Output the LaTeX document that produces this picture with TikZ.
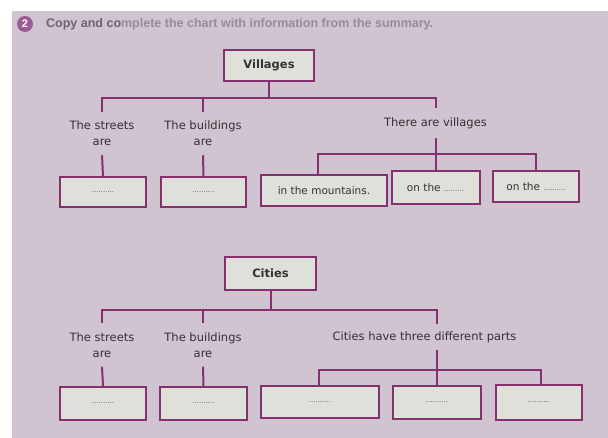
\documentclass[tikz,border=0pt]{standalone}
\usepackage{fontspec}
\usepackage{graphicx}
\setmainfont{DejaVu Sans}
\newfontfamily\headfont{Liberation Sans}
\definecolor{bgcol}{HTML}{CFC4D0}
\definecolor{boxcol}{HTML}{DDE1D9}
\definecolor{linecol}{HTML}{86306F}
\definecolor{txtcol}{HTML}{333135}
\definecolor{dotcol}{HTML}{5E5A62}
\definecolor{headcol}{HTML}{948E99}
\definecolor{headdark}{HTML}{6A6570}
\definecolor{circcol}{HTML}{9B5B93}
\newcommand\blankdots{{\fontsize{7}{7}\selectfont\color{dotcol}..........}}
\newcommand\shortdots{{\fontsize{7}{7}\selectfont\color{dotcol}.........}}
\begin{document}
\begin{tikzpicture}[x=1pt,y=-1pt,
  boxnode/.style={draw=linecol, line width=2pt, fill=boxcol, inner sep=0pt,
    text=txtcol, font=\fontsize{10.5}{12}\selectfont},
  titlenode/.style={boxnode, font=\fontsize{11.5}{13}\selectfont\bfseries},
  lbl/.style={text=txtcol, align=center, inner xsep=0pt, inner ysep=9pt,
    font=\fontsize{11.5}{16}\selectfont},
  conn/.style={draw=linecol, line width=2pt}]
\useasboundingbox (0,0) rectangle (608,438);
\fill[bgcol] (12,11) rectangle (608,438);

% header
\node[circle, fill=circcol, minimum size=16pt, inner sep=0pt, text=white,
  font=\headfont\bfseries\fontsize{11}{11}\selectfont] (num) at (25,24) {2};
\node[anchor=west, inner sep=0pt, text=headcol,
  font=\headfont\bfseries\fontsize{12.5}{14}\selectfont] (head) at (46,24)
  {\resizebox{387pt}{\height}{{\color{headdark}Copy and co}mplete the chart with information from the summary.}};

% ---------- Villages ----------
\node[titlenode, minimum width=90pt, minimum height=31pt] (V) at (269,65.5) {Villages};
\node[lbl] (VL1) at (102,133.6) {The streets\\are};
\node[lbl] (VL2) at (203,133.6) {The buildings\\are};
\node[lbl] (VL3) at (435.5,123) {There are villages};

\node[boxnode, minimum width=86pt, minimum height=30pt] (VB1) at (103,192) {\blankdots};
\node[boxnode, minimum width=85pt, minimum height=30pt] (VB2) at (203.5,192) {\blankdots};
\node[boxnode, minimum width=126pt, minimum height=31pt] (VB3) at (324,190.5) {in the mountains.};
\node[boxnode, minimum width=88pt, minimum height=33pt] (VB4) at (435.5,187.5) {on the \shortdots};
\node[boxnode, minimum width=86pt, minimum height=31pt] (VB5) at (536,186.5) {on the \blankdots};

\coordinate (vbus) at (269,98);
\coordinate (vbus2) at (435.5,154);
\draw[conn] (V.south) -- (vbus);
\draw[conn] (VL1.north) |- (vbus) -| (VL3.north);
\draw[conn] (VL2.north) -- (VL2.north |- vbus);
\draw[conn] (VL1.south) -- (VB1.north);
\draw[conn] (VL2.south) -- (VB2.north);
\draw[conn] (VL3.south) -- (VB4.north);
\draw[conn] ([xshift=-6pt]VB3.north) |- (vbus2) -| (VB5.north);

% ---------- Cities ----------
\node[titlenode, minimum width=91pt, minimum height=33pt] (C) at (270.5,273.5) {Cities};
\node[lbl] (CL1) at (102,345.1) {The streets\\are};
\node[lbl] (CL2) at (203,345.1) {The buildings\\are};
\node[lbl] (CL3) at (424.5,337) {Cities have three different parts};

\node[boxnode, minimum width=86pt, minimum height=33pt] (CB1) at (103,403.5) {\blankdots};
\node[boxnode, minimum width=87pt, minimum height=33pt] (CB2) at (203.5,403.5) {\blankdots};
\node[boxnode, minimum width=118pt, minimum height=32pt] (CB3) at (320,402) {\blankdots};
\node[boxnode, minimum width=88pt, minimum height=33pt] (CB4) at (437,402.5) {\blankdots};
\node[boxnode, minimum width=86pt, minimum height=35pt] (CB5) at (539,402.5) {\blankdots};

\coordinate (cbus) at (270.5,310);
\coordinate (cbus2) at (437,370);
\coordinate (cdrop) at (437,324);
\coordinate (cdrop2) at (437,350);
\draw[conn] (C.south) -- (cbus);
\draw[conn] (CL1.north) |- (cbus) -| (cdrop);
\draw[conn] (CL2.north) -- (CL2.north |- cbus);
\draw[conn] (CL1.south) -- (CB1.north);
\draw[conn] (CL2.south) -- (CB2.north);
\draw[conn] (cdrop2) -- (CB4.north);
\draw[conn] ([xshift=-1pt]CB3.north) |- (cbus2) -| ([xshift=2pt]CB5.north);
\end{tikzpicture}
\end{document}
